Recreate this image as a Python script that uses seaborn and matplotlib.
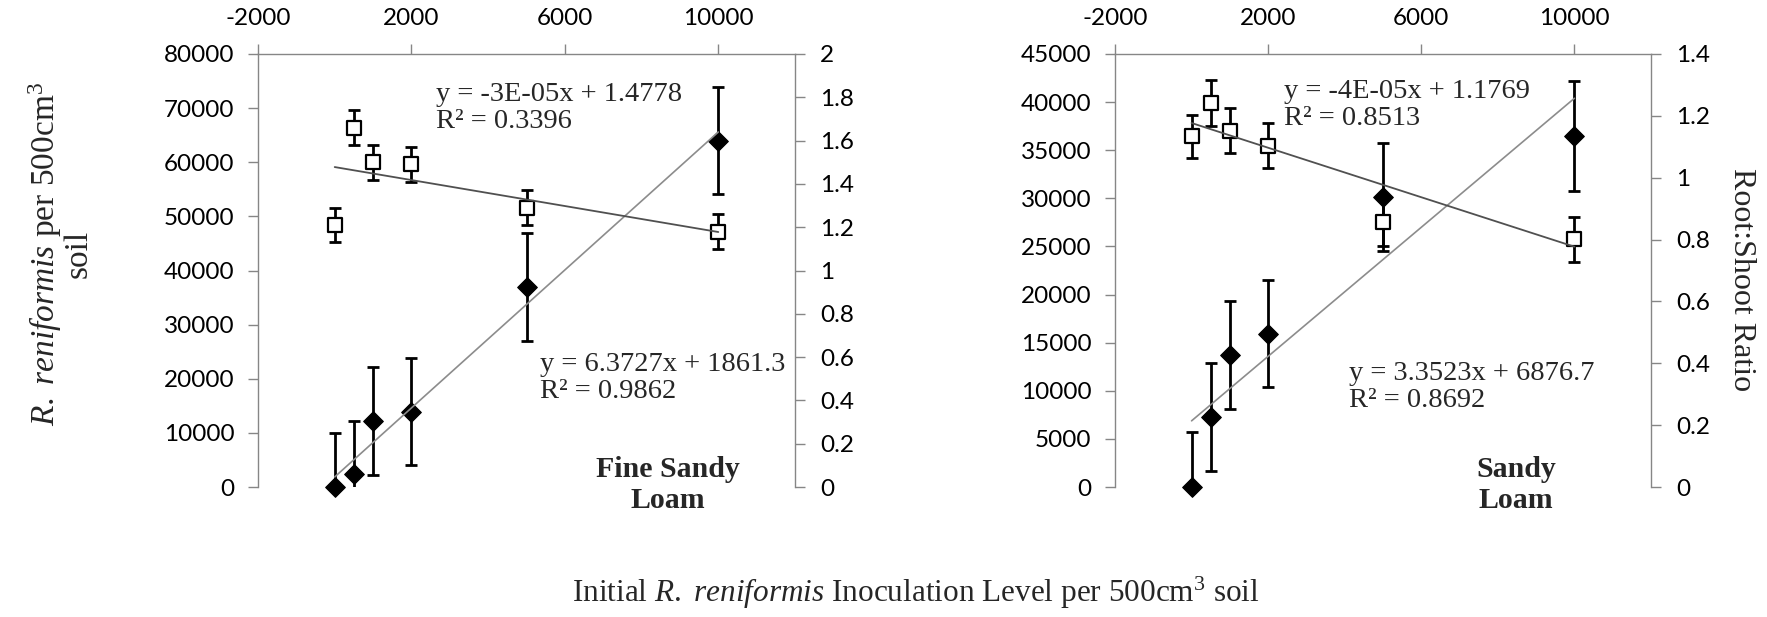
import numpy as np
import seaborn as sns
import matplotlib.pyplot as plt

# inoculation levels (nematodes per 500 cm3 soil)
inoculum = [0, 500, 1000, 2000, 5000, 10000]

# Fine sandy loam
fsl_nema = [0, 2400, 12200, 13900, 37000, 64000]
fsl_nema_err = [10000, 9800, 10000, 9900, 10000, 9900]
fsl_ratio = [1.21, 1.66, 1.50, 1.49, 1.29, 1.18]
fsl_ratio_err = [0.08, 0.08, 0.08, 0.08, 0.08, 0.08]
fsl_nema_fit = (6.3727, 1861.3, 0.9862)
fsl_ratio_fit = (-3e-05, 1.4778, 0.3396)

# Sandy loam
sl_nema = [0, 7300, 13700, 15950, 30100, 36500]
sl_nema_err = [5700, 5600, 5600, 5600, 5600, 5700]
sl_ratio = [1.134, 1.242, 1.152, 1.104, 0.858, 0.801]
sl_ratio_err = [0.07, 0.075, 0.073, 0.073, 0.08, 0.073]
sl_nema_fit = (3.3523, 6876.7, 0.8692)
sl_ratio_fit = (-4e-05, 1.1769, 0.8513)

sns.set_theme(style="white")
plt.rcParams['font.family'] = ['Lato', 'DejaVu Sans']
plt.rcParams['axes.unicode_minus'] = False
plt.rcParams['mathtext.fontset'] = 'custom'
plt.rcParams['mathtext.rm'] = 'Liberation Serif'
plt.rcParams['mathtext.it'] = 'Liberation Serif:italic'

W, H = 1767, 617
AXIS_COL = '#868686'
TICK_FS = 17.5
EQ_FS = 20.5
SERIF = 'Liberation Serif'


def eq_label(slope, icept, r2):
    if abs(slope) < 0.001:
        s = '%.0E' % slope
    else:
        s = '%.4f' % slope
    return 'y = %sx + %s\nR² = %.4f' % (s, ('%.4f' % icept).rstrip('0'), r2)


def panel(rect, nema, nema_err, ratio, ratio_err, nema_fit, ratio_fit,
          ymax, ystep, rmax, rstep, upper_pos, lower_pos, soil_pos, soil_name):
    ax = fig.add_axes(rect)
    axr = ax.twinx()

    # nematode counts (left axis)
    ax.errorbar(inoculum, nema, yerr=nema_err, fmt='none', ecolor='black',
                elinewidth=2, capsize=4.5, capthick=2, zorder=2)
    sns.scatterplot(x=inoculum, y=nema, marker='D', s=100, color='black',
                    edgecolor='black', ax=ax, zorder=3, clip_on=False)
    xs = np.array([inoculum[0], inoculum[-1]])
    sns.lineplot(x=xs, y=nema_fit[0] * xs + nema_fit[1], color='#8c8c8c',
                 linewidth=1.2, ax=ax, zorder=4)

    # root:shoot ratio (right axis)
    axr.errorbar(inoculum, ratio, yerr=ratio_err, fmt='none', ecolor='black',
                 elinewidth=2, capsize=4.5, capthick=2, zorder=2)
    sns.scatterplot(x=inoculum, y=ratio, marker='s', s=95, color='white',
                    edgecolor='black', linewidth=1.6, ax=axr, zorder=3)
    sns.lineplot(x=xs, y=ratio_fit[0] * xs + ratio_fit[1], color='#505050',
                 linewidth=1.3, ax=axr, zorder=4)

    ax.set_xlim(-2000, 12000)
    ax.set_xticks([-2000, 2000, 6000, 10000])
    ax.xaxis.tick_top()
    ax.set_ylim(0, ymax)
    ax.set_yticks(np.arange(0, ymax + 1, ystep))
    axr.set_ylim(0, rmax)
    axr.set_yticks(np.round(np.arange(0, rmax + 1e-9, rstep), 1))
    axr.set_yticklabels(['%g' % t for t in axr.get_yticks()])

    for a in (ax, axr):
        for sp in a.spines.values():
            sp.set_visible(False)
        a.grid(False)
    ax.spines['left'].set_visible(True)
    ax.spines['top'].set_visible(True)
    axr.spines['right'].set_visible(True)
    for sp in (ax.spines['left'], ax.spines['top'], axr.spines['right']):
        sp.set_color(AXIS_COL)
        sp.set_linewidth(1.0)
    ax.tick_params(axis='y', left=True, length=7, width=1, color=AXIS_COL,
                   pad=10, labelsize=TICK_FS, labelcolor='black')
    ax.tick_params(axis='x', top=True, bottom=False, length=7, width=1,
                   color=AXIS_COL, pad=11, labelsize=TICK_FS, labelcolor='black')
    axr.tick_params(axis='y', right=True, length=7, width=1, color=AXIS_COL,
                    pad=11, labelsize=TICK_FS, labelcolor='black')
    ax.set_xlabel('')
    ax.set_ylabel('')
    axr.set_ylabel('')

    ax.text(upper_pos[0], upper_pos[1], eq_label(*ratio_fit), transform=ax.transAxes,
            family=SERIF, fontsize=EQ_FS, ha='left', va='center', linespacing=1.1,
            zorder=10)
    ax.text(lower_pos[0], lower_pos[1], eq_label(*nema_fit), transform=ax.transAxes,
            family=SERIF, fontsize=EQ_FS, ha='left', va='center', linespacing=1.1,
            zorder=10)
    ax.text(soil_pos[0], soil_pos[1], soil_name, transform=ax.transAxes,
            family=SERIF, fontsize=21.5, fontweight='bold', ha='center',
            va='center', linespacing=1.2, zorder=10)
    return ax, axr


fig = plt.figure(figsize=(W / 100, H / 100), dpi=100)

left_rect = [258 / W, 1 - 487 / H, (795 - 258) / W, (487 - 54) / H]
right_rect = [1115 / W, 1 - 487 / H, (1651 - 1115) / W, (487 - 54) / H]

panel(left_rect, fsl_nema, fsl_nema_err, fsl_ratio, fsl_ratio_err,
      fsl_nema_fit, fsl_ratio_fit, 80000, 10000, 2.0, 0.2,
      (0.331, 0.876), (0.525, 0.252), (0.764, 0.005), 'Fine Sandy\nLoam')
panel(right_rect, sl_nema, sl_nema_err, sl_ratio, sl_ratio_err,
      sl_nema_fit, sl_ratio_fit, 45000, 5000, 1.4, 0.2,
      (0.315, 0.882), (0.436, 0.231), (0.748, 0.005), 'Sandy\nLoam')

fig.text(60 / W, 1 - 254 / H,
         '$\\mathit{R.\\ reniformis}$ per 500cm$^3$\nsoil',
         rotation=90, ha='center', va='center', family=SERIF, fontsize=24,
         linespacing=0.95, multialignment='center')
fig.text(1741 / W, 1 - 280 / H, 'Root:Shoot Ratio', rotation=-90,
         ha='center', va='center', family=SERIF, fontsize=23)
fig.text(916 / W, 1 - 593 / H,
         'Initial $\\mathit{R.\\ reniformis}$ Inoculation Level per 500cm$^3$ soil',
         ha='center', va='center', family=SERIF, fontsize=22.5)

fig.savefig('out.png', dpi=100, facecolor='white')
